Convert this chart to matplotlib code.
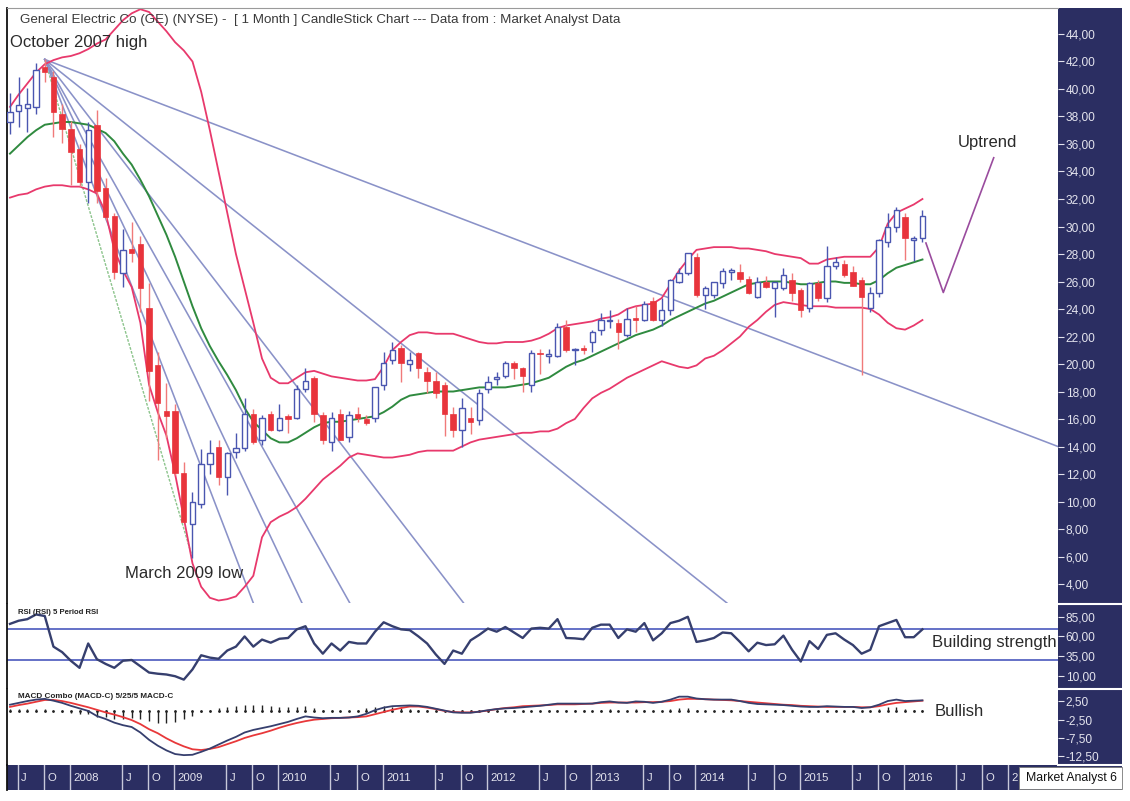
import matplotlib
matplotlib.use("Agg")
import matplotlib.pyplot as plt
from matplotlib.patches import Rectangle
from matplotlib.lines import Line2D
from matplotlib.ticker import FuncFormatter
import numpy as np

plt.rcParams['font.family'] = ['Liberation Sans', 'DejaVu Sans']

# ---- monthly candles, June 2007 .. March 2016 ----
opens = [37.6, 38.4, 38.6, 38.7, 41.6, 40.9, 38.2, 37.1, 35.6, 33.2,
         37.4, 32.8, 30.8, 26.6, 28.4, 28.7, 24.1, 19.9, 16.6, 16.6,
         12.1, 8.4, 9.8, 12.7, 14.0, 11.8, 13.6, 13.9, 16.4, 14.5,
         16.4, 15.2, 16.2, 16.1, 18.2, 19.0, 16.3, 14.3, 16.4, 14.7,
         16.4, 16.0, 16.1, 18.5, 20.3, 21.2, 20.0, 20.8, 19.4, 18.8,
         18.5, 16.4, 15.2, 16.1, 15.9, 18.2, 18.9, 19.1, 20.1, 19.7,
         18.5, 20.8, 20.6, 20.6, 22.7, 21.0, 21.2, 21.6, 22.5, 23.1,
         23.0, 22.1, 23.3, 23.2, 24.6, 23.2, 23.9, 26.0, 26.6, 27.8,
         25.0, 25.0, 25.9, 26.7, 26.7, 26.2, 24.9, 26.0, 25.5, 25.5,
         26.1, 25.4, 24.1, 25.9, 24.8, 27.1, 27.3, 26.7, 26.1, 24.1,
         25.2, 28.9, 30.0, 30.7, 29.0, 29.2]
highs = [39.7, 40.9, 40.1, 41.9, 42.15, 41.3, 38.9, 37.7, 36.0, 37.6,
         38.5, 33.5, 31.0, 29.8, 30.3, 29.3, 25.9, 20.9, 18.6, 17.1,
         12.9, 10.7, 13.8, 14.5, 14.5, 13.6, 15.0, 17.5, 16.7, 16.3,
         16.6, 17.1, 16.4, 18.5, 19.7, 19.1, 16.5, 16.5, 16.7, 16.6,
         16.9, 16.3, 18.3, 20.9, 21.6, 21.4, 20.9, 20.9, 19.8, 19.4,
         18.7, 16.9, 17.5, 16.9, 18.2, 19.1, 19.4, 20.2, 20.2, 19.8,
         21.0, 21.1, 21.1, 23.0, 23.2, 21.2, 21.4, 22.5, 23.7, 23.9,
         23.3, 24.1, 24.2, 24.6, 24.9, 24.8, 26.2, 27.0, 28.1, 28.1,
         25.7, 26.0, 27.0, 27.0, 27.3, 26.4, 26.3, 26.4, 26.0, 27.0,
         26.6, 25.5, 26.0, 26.1, 28.6, 27.8, 27.6, 27.1, 26.3, 25.6,
         29.1, 31.0, 31.4, 31.0, 29.3, 31.2]
lows = [36.7, 37.2, 36.9, 38.2, 40.5, 36.5, 36.1, 33.0, 32.9, 31.7,
        31.7, 30.5, 26.2, 25.6, 27.4, 23.8, 17.3, 13.0, 14.6, 11.9,
        8.5, 5.9, 9.5, 12.0, 11.2, 10.5, 13.2, 13.7, 14.2, 14.1,
        15.1, 15.1, 15.0, 16.0, 18.0, 15.8, 14.2, 13.7, 14.5, 14.3,
        15.8, 15.6, 15.8, 18.1, 20.0, 18.7, 19.5, 19.0, 17.9, 17.5,
        14.8, 14.7, 14.0, 14.9, 15.6, 17.9, 18.5, 19.0, 18.9, 18.0,
        18.0, 19.3, 20.1, 20.5, 20.9, 19.9, 20.7, 20.9, 22.1, 22.6,
        21.1, 22.0, 22.3, 23.1, 23.1, 22.8, 23.6, 25.9, 26.5, 24.9,
        24.0, 24.8, 25.5, 26.1, 26.0, 25.1, 24.8, 25.5, 23.4, 25.4,
        24.6, 23.4, 23.8, 24.6, 24.5, 26.9, 26.3, 25.7, 19.2, 23.8,
        24.9, 28.5, 29.6, 27.6, 27.5, 28.9]
closes = [38.3, 38.8, 38.9, 41.4, 41.2, 38.3, 37.1, 35.4, 33.2, 37.0,
          32.6, 30.7, 26.7, 28.3, 28.1, 25.5, 19.5, 17.2, 16.2, 12.1,
          8.5, 10.0, 12.7, 13.5, 11.8, 13.5, 13.9, 16.4, 14.3, 16.1,
          15.2, 16.1, 16.0, 18.2, 18.8, 16.4, 14.5, 16.1, 14.5, 16.3,
          16.1, 15.7, 18.3, 20.1, 21.0, 20.1, 20.3, 19.7, 18.8, 17.9,
          16.4, 15.2, 16.8, 15.8, 17.9, 18.7, 19.0, 20.1, 19.7, 19.1,
          20.8, 20.7, 20.7, 22.7, 21.0, 21.1, 21.0, 22.3, 23.2, 23.2,
          22.3, 23.3, 23.2, 24.4, 23.2, 23.9, 26.1, 26.6, 28.1, 25.0,
          25.5, 26.0, 26.8, 26.8, 26.2, 25.2, 26.0, 25.6, 26.0, 26.5,
          25.2, 23.9, 25.9, 24.8, 27.1, 27.4, 26.5, 25.7, 24.9, 25.2,
          29.0, 30.0, 31.2, 29.2, 29.2, 30.8]

# moving average (green) and bollinger bands (pink)
ma_line = [35.3, 35.9, 36.5, 37.0, 37.4, 37.5, 37.6, 37.6, 37.5, 37.4,
           37.1, 36.8, 36.2, 35.3, 34.5, 33.4, 32.2, 30.8, 29.4, 27.8,
           26.0, 24.2, 22.6, 21.3, 20.2, 19.2, 18.1, 16.8, 15.8, 15.2,
           14.6, 14.3, 14.3, 14.6, 15.0, 15.4, 15.7, 15.8, 15.8, 15.9,
           16.0, 16.1, 16.2, 16.5, 16.9, 17.4, 17.7, 17.8, 17.9, 18.0,
           18.0, 18.0, 18.1, 18.2, 18.3, 18.3, 18.3, 18.3, 18.4, 18.5,
           18.6, 18.8, 19.0, 19.4, 19.8, 20.1, 20.3, 20.6, 20.9, 21.2,
           21.5, 21.8, 22.1, 22.3, 22.5, 22.8, 23.2, 23.5, 23.8, 24.1,
           24.4, 24.6, 24.9, 25.2, 25.5, 25.8, 25.9, 26.0, 26.0, 26.0,
           25.9, 25.8, 25.8, 25.9, 26.0, 26.0, 25.9, 25.9, 25.8, 25.8,
           26.1, 26.6, 27.0, 27.2, 27.4, 27.6]
band_upper = [38.7, 39.6, 40.4, 41.2, 41.8, 42.1, 42.3, 42.4, 42.6, 42.9,
              43.3, 43.6, 44.3, 45.0, 45.5, 45.8, 45.6, 44.9, 44.2, 43.4,
              42.8, 42.0, 39.8, 37.0, 34.0, 31.0, 28.0, 25.5, 23.0, 20.4,
              19.0, 18.6, 18.6, 19.0, 19.4, 19.5, 19.3, 19.1, 19.0, 18.9,
              18.8, 18.8, 18.9, 19.8, 21.0, 21.6, 22.1, 22.3, 22.3, 22.2,
              22.2, 22.2, 22.0, 21.8, 21.6, 21.5, 21.5, 21.6, 21.6, 21.6,
              21.7, 21.9, 22.2, 22.6, 22.8, 22.9, 23.0, 23.1, 23.3, 23.4,
              23.6, 24.0, 24.2, 24.3, 24.4, 24.8, 25.8, 26.8, 27.6, 28.3,
              28.4, 28.5, 28.5, 28.5, 28.4, 28.4, 28.3, 28.2, 28.0, 27.9,
              27.8, 27.7, 27.3, 27.3, 27.6, 27.7, 27.8, 27.8, 27.8, 27.8,
              28.5, 30.2, 31.0, 31.3, 31.6, 32.0]
band_lower = [32.1, 32.3, 32.4, 32.7, 32.9, 33.0, 33.0, 32.9, 32.9, 32.7,
              32.4, 31.0, 28.3, 26.8, 25.6, 23.0, 18.5, 16.5, 14.8, 12.0,
              8.8, 5.5, 3.8, 3.0, 2.8, 2.9, 3.1, 3.8, 4.6, 7.4,
              8.5, 8.9, 9.2, 9.6, 10.2, 10.9, 11.6, 12.1, 12.6, 13.2,
              13.5, 13.4, 13.3, 13.2, 13.2, 13.3, 13.4, 13.6, 13.7, 13.7,
              13.7, 13.7, 14.0, 14.3, 14.5, 14.6, 14.7, 14.8, 14.9, 15.0,
              15.0, 15.1, 15.1, 15.3, 15.7, 16.0, 16.8, 17.5, 17.9, 18.2,
              18.6, 19.0, 19.3, 19.6, 19.9, 20.2, 20.0, 19.8, 19.7, 19.9,
              20.4, 20.6, 21.0, 21.5, 22.0, 22.7, 23.2, 23.8, 24.3, 24.5,
              24.4, 24.3, 24.2, 24.2, 24.2, 24.1, 24.1, 24.1, 24.1, 24.0,
              23.6, 23.0, 22.6, 22.5, 22.8, 23.2]

# RSI 5 period
rsi = [76, 80, 82, 88, 86, 47, 40, 29, 20, 51,
       31, 25, 20, 29, 30, 22, 14, 12.5, 11.5, 9.3,
       5, 18, 36, 33, 31.5, 42, 47, 60, 47, 56,
       52, 57, 58, 69, 73, 51, 38, 51, 42, 53,
       51, 51, 66, 78, 73, 69, 68, 60, 51, 37,
       25, 42, 38, 55, 62, 70, 66, 72, 65, 58,
       70, 71, 70, 82, 58, 57.5, 56.4, 71, 75, 75,
       58, 69, 66, 77, 55, 64, 77, 80, 85, 53,
       55, 58, 65, 64, 53, 41, 52, 49, 50, 61,
       43, 28, 54, 44, 62, 64, 56, 49, 38, 43,
       73, 77, 81, 59, 59, 69]
rsi_levels = [70, 30]

# MACD 5/25/5
macd = [1.6, 2.1, 2.6, 3.0, 3.2, 2.7, 2.1, 1.3, 0.6, -0.1,
        -1.5, -2.3, -3.3, -4.0, -4.5, -6.0, -8.0, -9.6, -10.9, -11.9,
        -12.2, -12.1, -11.3, -10.4, -9.3, -8.2, -7.2, -6.0, -5.3, -4.8,
        -4.3, -3.7, -3.1, -2.3, -1.6, -1.9, -2.1, -2.0, -2.0, -1.9,
        -1.6, -0.9, 0.1, 0.8, 1.2, 1.3, 1.4, 1.3, 1.0, 0.5,
        0.0, -0.5, -0.6, -0.6, -0.3, 0.1, 0.4, 0.6, 0.7, 0.9,
        1.1, 1.3, 1.6, 1.9, 1.9, 1.9, 1.9, 1.9, 2.3, 2.5,
        2.2, 2.1, 2.5, 2.4, 2.1, 2.4, 3.0, 3.8, 3.8, 3.3,
        3.1, 3.0, 3.0, 3.0, 2.6, 2.1, 1.8, 1.7, 1.6, 1.5,
        1.3, 1.1, 1.0, 1.0, 1.2, 1.1, 1.0, 1.0, 0.7, 0.9,
        1.6, 2.6, 3.0, 2.6, 2.7, 2.8]
macd_signal = [1.0, 1.5, 1.9, 2.4, 2.9, 2.9, 2.6, 2.1, 1.5, 0.9,
               0.2, -0.5, -1.1, -1.8, -2.6, -3.7, -5.1, -6.2, -7.6, -8.8,
               -9.8, -10.6, -10.8, -10.5, -10.0, -9.2, -8.4, -7.5, -6.8, -6.2,
               -5.5, -4.7, -4.0, -3.4, -2.9, -2.5, -2.3, -2.1, -2.0, -1.9,
               -1.8, -1.6, -1.0, -0.4, 0.2, 0.7, 1.1, 1.1, 0.8, 0.4,
               -0.1, -0.4, -0.5, -0.5, -0.3, 0.0, 0.4, 0.7, 0.9, 1.2,
               1.3, 1.4, 1.5, 1.7, 1.7, 1.7, 1.8, 1.9, 2.1, 2.2,
               2.2, 2.2, 2.2, 2.3, 2.3, 2.4, 2.6, 3.0, 3.2, 3.2,
               3.1, 3.0, 2.9, 2.8, 2.6, 2.4, 2.2, 2.0, 1.8, 1.6,
               1.5, 1.3, 1.2, 1.1, 1.0, 1.0, 1.0, 1.0, 0.9, 0.9,
               1.2, 1.7, 2.1, 2.3, 2.5, 2.7]
macd_hist = [0.3, 0.3, 0.3, 0.3, 0.3, -0.2, -0.5, -0.8, -0.9, -1.0,
             -1.7, -1.8, -2.2, -2.2, -1.9, -2.3, -2.9, -3.4, -3.3, -3.1,
             -2.4, -1.5, -0.5, 0.1, 0.7, 1.0, 1.2, 1.5, 1.5, 1.4,
             1.2, 1.0, 0.9, 1.1, 1.3, 0.6, 0.2, 0.1, 0.0, 0.0,
             0.2, 0.7, 1.1, 1.2, 1.0, 0.6, 0.3, 0.2, 0.2, 0.1,
             0.1, -0.1, -0.1, -0.1, 0.0, 0.1, 0.0, -0.1, -0.2, -0.3,
             -0.2, -0.1, 0.1, 0.2, 0.2, 0.2, 0.1, 0.0, 0.2, 0.3,
             0.0, -0.1, 0.3, 0.1, -0.2, 0.0, 0.4, 0.8, 0.6, 0.1,
             0.0, 0.0, 0.1, 0.2, 0.0, -0.3, -0.4, -0.3, -0.2, -0.1,
             -0.2, -0.2, -0.2, -0.1, 0.2, 0.1, 0.0, 0.0, -0.2, 0.0,
             0.4, 0.9, 0.9, 0.3, 0.2, 0.1]

# fan from the October 2007 high (month index, price)
fan_apex = (4, 42.15)
fan_green_end = (21, 5.9)
fan_blue_ends = [(28.0, 2.62), (33.6, 2.62), (39.1, 2.62), (52.2, 2.62),
                 (82.5, 2.62), (120.6, 14.0)]

# hand drawn "uptrend" V
uptrend_idx = [105.4, 107.4, 113.2]
uptrend_price = [28.8, 25.2, 35.0]

price_ticks = [4, 6, 8, 10, 12, 14, 16, 18, 20, 22, 24, 26, 28, 30, 32,
               34, 36, 38, 40, 42, 44]
rsi_ticks = [85, 60, 35, 10]
macd_ticks = [2.5, -2.5, -7.5, -12.5]

# the last year label is mostly hidden behind the branding box
time_labels = ["J", "O", "2008", "J", "O", "2009", "J", "O", "2010",
               "J", "O", "2011", "J", "O", "2012", "J", "O", "2013",
               "J", "O", "2014", "J", "O", "2015", "J", "O", "2016",
               "J", "O", "2"]
time_label_idx = [1, 4, 7, 13, 16, 19, 25, 28, 31, 37, 40, 43, 49, 52, 55,
                  61, 64, 67, 73, 76, 79, 85, 88, 91, 97, 100, 103, 109,
                  112, 115]

# ---- style ----
NAVY = '#2b2e62'
UP_EDGE = '#4a56b0'
DOWN_FILL = '#e8343c'
DOWN_WICK = '#f07a7a'
BAND = '#e8396c'
MA = '#2f8a3f'
FAN = '#8a92c8'
DARK_LINE = '#363f6e'
LEVEL = '#3a4ab8'
RED_LINE = '#e8383a'
LABEL_WHITE = '#e4e4ee'
TEXT = '#2a2a2a'

W, H = 1130, 801
PX = 8.69    # pixels per month
X0 = 10      # pixel position of the first candle


def rect(x0, y0, x1, y1):
    return [x0 / W, 1 - y1 / H, (x1 - x0) / W, (y1 - y0) / H]


def fx(x):
    return x / W


def fy(y):
    return 1 - y / H


comma = FuncFormatter(lambda v, p: ("%.2f" % v).replace('.', ','))
xlim_main = ((7 - X0) / PX, (1058 - X0) / PX)

fig = plt.figure(figsize=(W / 100, H / 100), dpi=100)
fig.patch.set_facecolor('white')
fig.patches.append(Rectangle((fx(1058), fy(790)), 64 / W, 782 / H,
                             transform=fig.transFigure, facecolor=NAVY,
                             edgecolor='none', zorder=-1))


def style_panel(ax, ticks, ylim):
    ax.set_xlim(*xlim_main)
    ax.set_ylim(*ylim)
    ax.yaxis.tick_right()
    ax.set_yticks(ticks)
    ax.yaxis.set_major_formatter(comma)
    ax.tick_params(axis='y', colors=LABEL_WHITE, labelsize=8.6, length=4,
                   width=0.8, pad=1.5, direction='out')
    ax.tick_params(axis='x', bottom=False, labelbottom=False)
    for s in ('right', 'bottom', 'top'):
        ax.spines[s].set_visible(False)
    ax.spines['left'].set_color('#111111')
    ax.spines['left'].set_linewidth(1.3)


# ---- price panel ----
ax = fig.add_axes(rect(7, 8, 1058, 603))
style_panel(ax, price_ticks, (2.62, 45.89))
ax.spines['top'].set_visible(True)
ax.spines['top'].set_color('#9a9a9a')

idx = np.arange(len(closes))
o, h, l, c = (np.array(a) for a in (opens, highs, lows, closes))

ax.plot([fan_apex[0], fan_green_end[0]], [fan_apex[1], fan_green_end[1]],
        color='#8cc48c', lw=1.0, ls=(0, (2, 1)), zorder=2)
for ei, ep in fan_blue_ends:
    ax.plot([fan_apex[0], ei], [fan_apex[1], ep], color=FAN, lw=1.15, zorder=2)

ax.plot(idx, band_upper, color=BAND, lw=1.3, zorder=2)
ax.plot(idx, band_lower, color=BAND, lw=1.3, zorder=2)
ax.plot(idx, ma_line, color=MA, lw=1.4, zorder=2)

up = c >= o
body_lo = np.minimum(o, c)
body_h = np.maximum(np.abs(c - o), 0.12)
ax.vlines(idx[up], l[up], h[up], color=UP_EDGE, lw=1.0, zorder=3)
ax.vlines(idx[~up], l[~up], h[~up], color=DOWN_WICK, lw=1.0, zorder=3)
ax.bar(idx[up], body_h[up], bottom=body_lo[up], width=0.62,
       facecolor='white', edgecolor=UP_EDGE, lw=1.0, zorder=4)
ax.bar(idx[~up], body_h[~up], bottom=body_lo[~up], width=0.62,
       facecolor=DOWN_FILL, edgecolor=DOWN_FILL, lw=0.5, zorder=4)

ax.plot(uptrend_idx, uptrend_price, color='#9a4c9e', lw=1.2, zorder=3,
        clip_on=False)

# ---- RSI panel ----
ax_rsi = fig.add_axes(rect(7, 604, 1058, 688))
style_panel(ax_rsi, rsi_ticks, (-5.7, 101.3))
for lv in rsi_levels:
    ax_rsi.axhline(lv, color=LEVEL, lw=1.1, zorder=1)
ax_rsi.plot(idx, rsi, color=DARK_LINE, lw=1.7, zorder=2)

# ---- MACD panel ----
ax_macd = fig.add_axes(rect(7, 689, 1058, 765))
style_panel(ax_macd, macd_ticks, (-14.9, 5.9))
ax_macd.vlines(idx, 0, macd_hist, color='#222222', lw=1.0, zorder=1)
ax_macd.scatter(idx, np.zeros(len(idx)), s=1.0, color='#222222', zorder=1)
ax_macd.plot(idx, macd_signal, color=RED_LINE, lw=1.3, zorder=2)
ax_macd.plot(idx, macd, color=DARK_LINE, lw=1.3, zorder=3)

# ---- time bar ----
ax_t = fig.add_axes(rect(7, 765, 1122, 790))
ax_t.set_facecolor(NAVY)
ax_t.set_xlim((7 - X0) / PX, (1122 - X0) / PX)
ax_t.set_ylim(0, 1)
ax_t.set_xticks([])
ax_t.set_yticks([])
for s in ('right', 'bottom', 'top'):
    ax_t.spines[s].set_visible(False)
ax_t.spines['left'].set_color('#111111')
ax_t.spines['left'].set_linewidth(1.3)
for pos, lbl in zip(time_label_idx, time_labels):
    ax_t.axvline(pos - 0.12, color='#c8c8da', lw=1.0)
    ax_t.text(pos + 0.28, 0.48, lbl, color=LABEL_WHITE, fontsize=8.2,
              ha='left', va='center')

# separators on the navy scale strip
for yy in (603.5, 688.5, 765):
    fig.add_artist(Line2D([fx(1058), fx(1122)], [fy(yy), fy(yy)],
                          color='white', lw=1.5, transform=fig.transFigure))

# branding box
fig.patches.append(Rectangle((fx(1019), fy(789)), 103 / W, 22 / H,
                             transform=fig.transFigure, facecolor='white',
                             edgecolor='#777777', lw=0.6, zorder=5))
fig.text(fx(1071), fy(778), "Market Analyst 6", fontsize=8.8, color='#111111',
         ha='center', va='center', zorder=6)

# ---- texts ----
fig.text(fx(20), fy(20), "General Electric Co (GE) (NYSE) -  [ 1 Month ] "
         "CandleStick Chart --- Data from : Market Analyst Data",
         fontsize=9.6, color='#3a3a3a', ha='left', va='center')
fig.text(fx(10), fy(42), "October 2007 high", fontsize=12, color=TEXT,
         ha='left', va='center')
fig.text(fx(125), fy(573), "March 2009 low", fontsize=12, color=TEXT,
         ha='left', va='center')
fig.text(fx(958), fy(143), "Uptrend", fontsize=12, color=TEXT,
         ha='left', va='center')
fig.text(fx(932), fy(643), "Building strength", fontsize=12, color=TEXT,
         ha='left', va='center')
fig.text(fx(935), fy(711), "Bullish", fontsize=12, color=TEXT,
         ha='left', va='center')
fig.text(fx(18), fy(612), "RSI (RSI) 5 Period RSI", fontsize=5.6,
         color='#222222', ha='left', va='center', fontweight='bold')
fig.text(fx(18), fy(696), "MACD Combo (MACD-C) 5/25/5 MACD-C", fontsize=5.9,
         color='#222222', ha='left', va='center', fontweight='bold')

fig.savefig("out.png", dpi=100)
